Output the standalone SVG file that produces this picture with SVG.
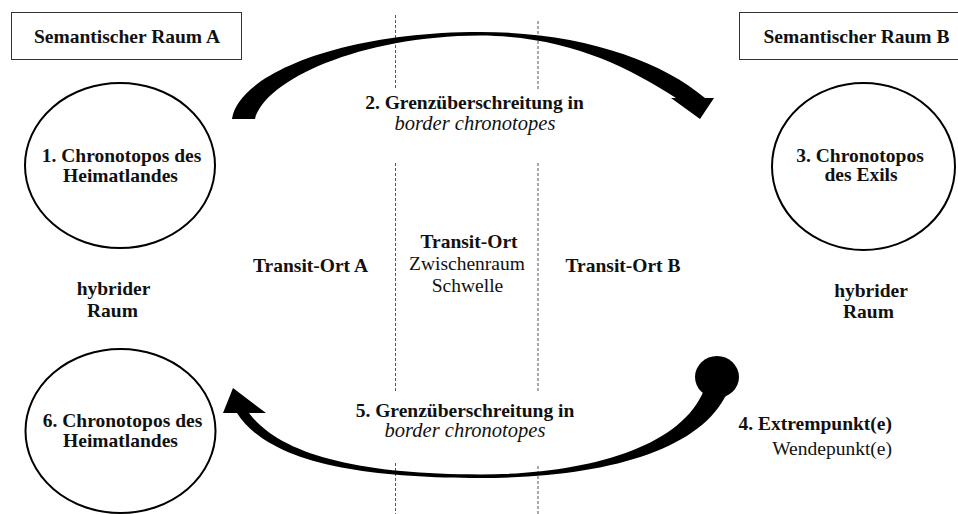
<svg xmlns="http://www.w3.org/2000/svg" width="958" height="514" viewBox="0 0 958 514">
<style>
  text { font-family: "Liberation Serif", "Times New Roman", serif; font-size: 19.5px; fill: #111; text-anchor: middle; }
  .b { font-weight: bold; }
  .i { font-style: italic; font-size: 20.5px; }
  .box { fill: #fff; stroke: #333; stroke-width: 1; }
  .node { fill: none; stroke: #000; stroke-width: 2; }
  .dash { stroke: #555; stroke-width: 1; stroke-dasharray: 3 2; fill: none; }
  .arrow { fill: #000; stroke: none; }
</style>
<rect width="958" height="514" fill="#fff"/>

<g id="dividers">
  <line class="dash" x1="395.5" y1="15" x2="395.5" y2="90"/>
  <line class="dash" x1="395.5" y1="163" x2="395.5" y2="392"/>
  <line class="dash" x1="395.5" y1="463" x2="395.5" y2="514"/>
  <line class="dash" x1="538" y1="21" x2="538" y2="90"/>
  <line class="dash" x1="538" y1="163" x2="538" y2="392"/>
  <line class="dash" x1="538" y1="466" x2="538" y2="514"/>
</g>

<g id="raumA">
  <rect class="box" x="11.5" y="12.5" width="230" height="47"/>
  <text class="b" x="127" y="42.5">Semantischer Raum A</text>
</g>
<g id="raumB">
  <rect class="box" x="739.5" y="12.5" width="220" height="47"/>
  <text class="b" x="856.5" y="42.5">Semantischer Raum B</text>
</g>

<g id="node1">
  <ellipse class="node" cx="120" cy="165.5" rx="95" ry="82.5"/>
  <text class="b" x="121.5" y="162">1. Chronotopos des</text>
  <text class="b" x="120.5" y="181.5">Heimatlandes</text>
</g>
<g id="node3">
  <ellipse class="node" cx="863.5" cy="166.5" rx="91.5" ry="83.5"/>
  <text class="b" x="860" y="161.5">3. Chronotopos</text>
  <text class="b" x="861" y="181">des Exils</text>
</g>
<g id="node6">
  <ellipse class="node" cx="120.5" cy="431" rx="95" ry="82"/>
  <text class="b" x="122.5" y="427">6. Chronotopos des</text>
  <text class="b" x="120.5" y="447">Heimatlandes</text>
</g>

<g id="hybridA">
  <text class="b" x="113.5" y="295">hybrider</text>
  <text class="b" x="112.5" y="316.5">Raum</text>
</g>
<g id="hybridB">
  <text class="b" x="871" y="296.5">hybrider</text>
  <text class="b" x="868.5" y="318">Raum</text>
</g>

<g id="transitA">
  <text class="b" x="310.5" y="271.5">Transit-Ort A</text>
</g>
<g id="transitMid">
  <text class="b" x="469" y="247.5">Transit-Ort</text>
  <text x="467" y="270">Zwischenraum</text>
  <text x="467.5" y="291.5">Schwelle</text>
</g>
<g id="transitB">
  <text class="b" x="623" y="271.5">Transit-Ort B</text>
</g>

<g id="label2">
  <text class="b" x="474.5" y="109">2. Grenzüberschreitung in</text>
  <text class="i" x="475" y="130">border chronotopes</text>
</g>
<g id="label5">
  <text class="b" x="465" y="416.5">5. Grenzüberschreitung in</text>
  <text class="i" x="465" y="437">border chronotopes</text>
</g>
<g id="node4">
  <text class="b" x="892" y="430" style="text-anchor:end">4. Extrempunkt(e)</text>
  <text x="892" y="455" style="text-anchor:end">Wendepunkt(e)</text>
</g>

<g id="connectors">
  <path class="arrow" d="M 232,119 C 238,75 340,32 480,32 C 580,32 660,60 705,98 L 714,98 L 700,119 L 671,98 L 676,98 C 625,65 565,36 480,35.5 C 360,36 265,80 255,119 Z"/>
  <ellipse class="arrow" cx="717" cy="377" rx="22" ry="21"/>
  <path class="arrow" d="M 704,390 C 680,450 580,474.5 480,474.5 C 360,474.5 280,455 249,413 L 266,413 L 233,388 L 223,413 L 237,413 C 270,465 370,478 480,478 C 600,478 700,452 727,393 Z"/>
</g>
</svg>
